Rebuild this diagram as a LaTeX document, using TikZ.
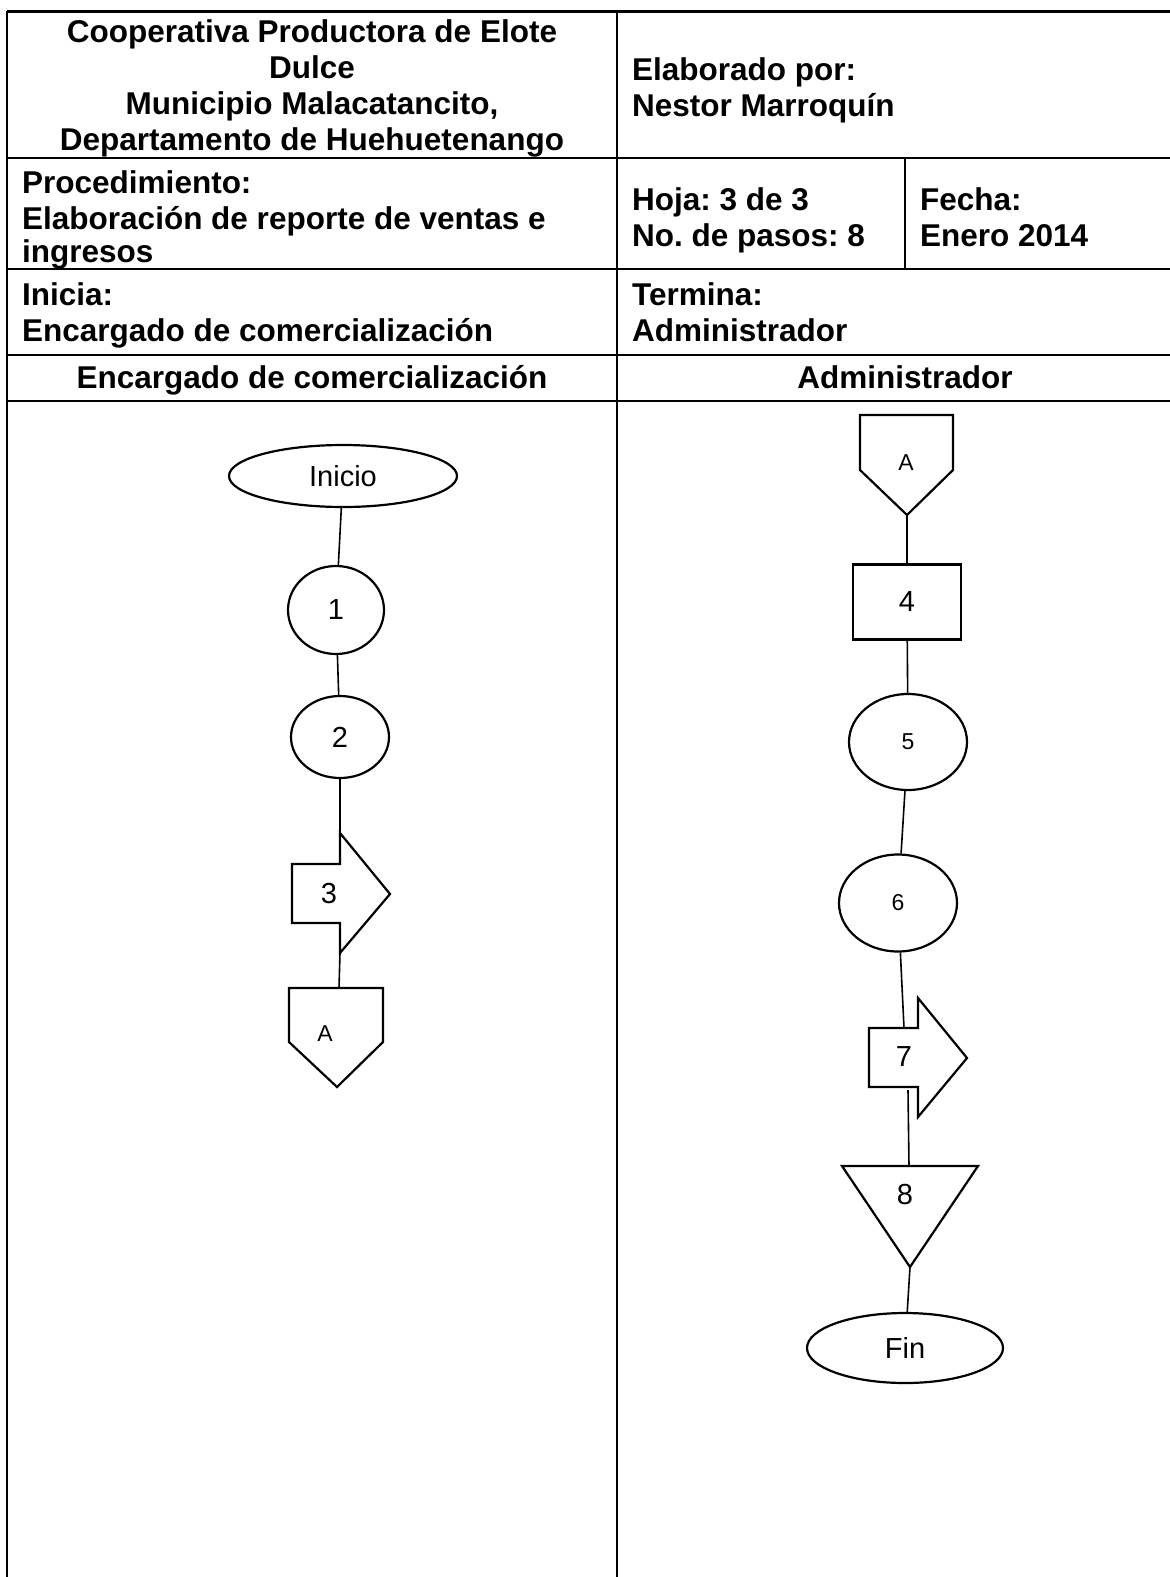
\documentclass[tikz,border=0pt]{standalone}
\usepackage{fontspec}
\setmainfont{Liberation Sans}
\usetikzlibrary{shapes.geometric}
\frenchspacing
\newcommand{\hdrfont}{\fontsize{31.5pt}{36pt}\selectfont\bfseries}
\newcommand{\stepfont}{\fontsize{29pt}{33pt}\selectfont}
\newcommand{\smallstep}{\fontsize{23pt}{26pt}\selectfont}

\begin{document}
\begin{tikzpicture}[x=1pt,y=-1pt,
  grid/.style={line width=2pt},
  hdr/.style={font=\hdrfont,inner sep=0pt},
  flow/.style={line width=1.6pt},
  outline/.style={draw,line width=2.2pt},
  oval/.style={outline,ellipse,inner sep=0pt,font=\stepfont},
  lbl/.style={inner sep=0pt,font=\stepfont}]
        \useasboundingbox (0,0) rectangle (1170,1577);
        % table
        \draw[grid,line width=3pt] (7,11)--(1170,11);
        \draw[grid] (7,11)--(7,1577) (617,11)--(617,1577) (905,158)--(905,269);
        \draw[grid] (7,158)--(1170,158) (7,269)--(1170,269)
                (7,355)--(1170,355) (7,401)--(1170,401);
        % header texts
        \node[hdr,anchor=base] (org1) at (312,42) {Cooperativa Productora de Elote};
        \node[hdr,anchor=base] (org2) at (312,78) {Dulce};
        \node[hdr,anchor=base] (org3) at (312,114) {Municipio Malacatancito,};
        \node[hdr,anchor=base] (org4) at (312,150) {Departamento de Huehuetenango};
        \node[hdr,anchor=base west] (elab1) at (632,80) {Elaborado por:};
        \node[hdr,anchor=base west] (elab2) at (632,116) {Nestor Marroquín};
        \node[hdr,anchor=base west] (proc1) at (22,193) {Procedimiento:};
        \node[hdr,anchor=base west] (proc2) at (22,229) {Elaboración de reporte de ventas e};
        \node[hdr,anchor=base west] (proc3) at (22,262) {ingresos};
        \node[hdr,anchor=base west] (hoja) at (632,210) {Hoja: 3 de 3};
        \node[hdr,anchor=base west] (pasos) at (632,246) {No. de pasos: 8};
        \node[hdr,anchor=base west] (fecha1) at (920,210) {Fecha:};
        \node[hdr,anchor=base west] (fecha2) at (920,246) {Enero 2014};
        \node[hdr,anchor=base west] (ini1) at (22,305) {Inicia:};
        \node[hdr,anchor=base west] (ini2) at (22,341) {Encargado de comercialización};
        \node[hdr,anchor=base west] (term1) at (632,305) {Termina:};
        \node[hdr,anchor=base west] (term2) at (632,341) {Administrador};
        \node[hdr,anchor=base] (lane1) at (312,388) {Encargado de comercialización};
        \node[hdr,anchor=base] (lane2) at (905,388) {Administrador};
        % left lane
        \node[oval,minimum width=228pt,minimum height=62pt] (inicio) at (343,476) {Inicio};
        \node[oval,minimum width=96pt,minimum height=88pt] (c1) at (336,610) {1};
        \node[oval,minimum width=98pt,minimum height=82pt] (c2) at (340,737) {2};
        \draw[outline] (292,864)--(340,864)--(340,833)--(390,894)--(340,953)--(340,923)--(292,923)--cycle;
        \node[lbl] (s3) at (329,894) {3};
        \coordinate (s3in) at (340,833);
        \coordinate (s3out) at (340,953);
        \draw[outline] (289,988)--(383,988)--(383,1042)--(337,1087)--(289,1042)--cycle;
        \node[lbl,font=\smallstep] (a1) at (325,1034) {A};
        \coordinate (a1in) at (339,988);
        \draw[flow] (inicio)--(c1);
        \draw[flow] (c1)--(c2);
        \draw[flow] (c2)--(s3in);
        \draw[flow] (s3out)--(a1in);
        % right lane
        \draw[outline] (860,415)--(953,415)--(953,470)--(907,515)--(860,470)--cycle;
        \node[lbl,font=\smallstep] (a2) at (906,463) {A};
        \coordinate (a2out) at (907,515);
        \node[outline,minimum width=108pt,minimum height=75pt,inner sep=0pt,font=\stepfont] (s4) at (907,602) {4};
        \node[oval,minimum width=118pt,minimum height=96pt,font=\smallstep] (c5) at (908,742) {5};
        \node[oval,minimum width=118pt,minimum height=97pt,font=\smallstep] (c6) at (898,903) {6};
        \draw[outline] (869,1028)--(918,1028)--(918,998)--(967,1058)--(918,1117)--(918,1087)--(869,1087)--cycle;
        \node[lbl] (s7) at (904,1057) {7};
        \coordinate (s7in) at (904,1028);
        \coordinate (s7out) at (908,1090);
        \draw[outline] (842,1166)--(978,1166)--(910,1267)--cycle;
        \node[lbl] (s8) at (905,1195) {8};
        \coordinate (s8in) at (909,1166);
        \coordinate (s8out) at (910,1267);
        \node[oval,minimum width=196pt,minimum height=70pt] (fin) at (905,1348) {Fin};
        \draw[flow] (a2out)--(s4);
        \draw[flow] (s4)--(c5);
        \draw[flow] (c5)--(c6);
        \draw[flow] (c6)--(s7in);
        \draw[flow] (s7out)--(s8in);
        \draw[flow] (s8out)--(fin);
\end{tikzpicture}
\end{document}
